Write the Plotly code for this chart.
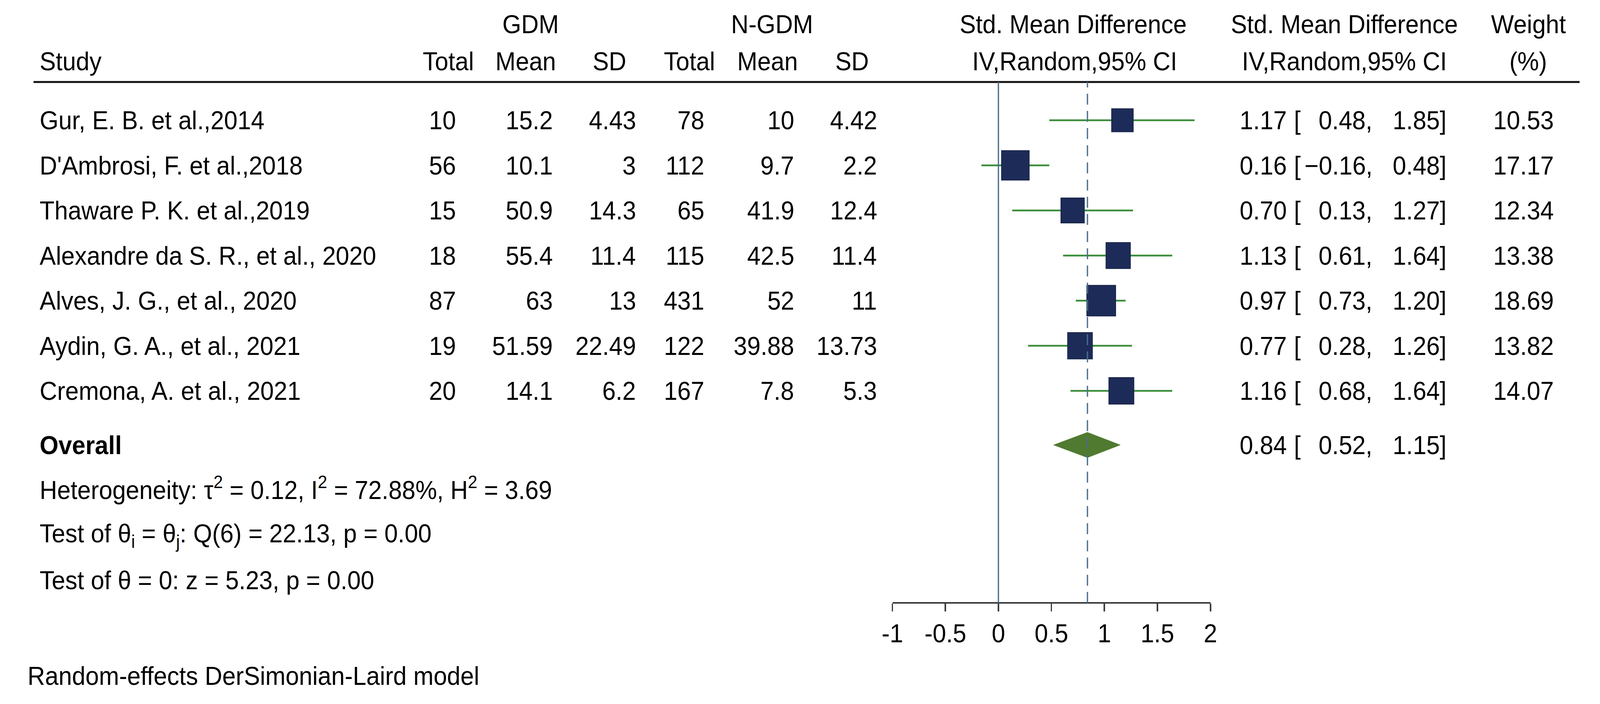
import numpy as np
import plotly.graph_objects as go

# ---------------- data ----------------
studies = ["Gur, E. B. et al.,2014", "D'Ambrosi, F. et al.,2018", "Thaware P. K. et al.,2019",
           "Alexandre da S. R., et al., 2020", "Alves, J. G., et al., 2020",
           "Aydin, G. A., et al., 2021", "Cremona, A. et al., 2021"]
gdm_total = [10, 56, 15, 18, 87, 19, 20]
gdm_mean = [15.2, 10.1, 50.9, 55.4, 63, 51.59, 14.1]
gdm_sd = [4.43, 3, 14.3, 11.4, 13, 22.49, 6.2]
ngdm_total = [78, 112, 65, 115, 431, 122, 167]
ngdm_mean = [10, 9.7, 41.9, 42.5, 52, 39.88, 7.8]
ngdm_sd = [4.42, 2.2, 12.4, 11.4, 11, 13.73, 5.3]
smd = [1.17, 0.16, 0.70, 1.13, 0.97, 0.77, 1.16]
ci_low = [0.48, -0.16, 0.13, 0.61, 0.73, 0.28, 0.68]
ci_high = [1.85, 0.48, 1.27, 1.64, 1.20, 1.26, 1.64]
weights = [10.53, 17.17, 12.34, 13.38, 18.69, 13.82, 14.07]
overall_smd = 0.84
overall_low = 0.52
overall_high = 1.15
tick_values = [-1, -0.5, 0, 0.5, 1, 1.5, 2]
tick_labels = ["-1", "-0.5", "0", "0.5", "1", "1.5", "2"]
stats_lines = ["Heterogeneity: τ<sup>2</sup> = 0.12, I<sup>2</sup> = 72.88%, H<sup>2</sup> = 3.69",
               "Test of θ<sub>i</sub> = θ<sub>j</sub>: Q(6) = 22.13, p = 0.00",
               "Test of θ = 0: z = 5.23, p = 0.00"]
footnote = "Random-effects DerSimonian-Laird model"

# ---------------- layout helpers ----------------
W, H = 4360, 1803
FONT = "Liberation Sans, Arial, sans-serif"
FS = 66
ROW0_PX, ROW_STEP = 308, 115.5


def px_x(p):
    return p / W


def px_y(p):
    return 1 - p / H


n = len(studies)
rows = list(range(1, n + 1))
overall_row = n + 1.2
stats_rows = [n + 2.16, n + 3.2, n + 4.2]

y_top = 1 + (0 - ROW0_PX) / ROW_STEP
y_bot = 1 + (H - ROW0_PX) / ROW_STEP

fig = go.Figure()

# CI lines + squares (square area proportional to weight)
sizes = [18.3 * np.sqrt(w) for w in weights]
fig.add_trace(go.Scatter(
    x=smd, y=rows, mode="markers",
    marker=dict(symbol="square", size=sizes, color="#1d2b58", opacity=1,
                line=dict(width=1.5, color="#141f40")),
    error_x=dict(type="data", symmetric=False,
                 array=[h - e for h, e in zip(ci_high, smd)],
                 arrayminus=[e - l for e, l in zip(smd, ci_low)],
                 width=0, thickness=4.5, color="#3b8d3b"),
    showlegend=False, hoverinfo="skip"))

# overall diamond
dh = 0.28
fig.add_trace(go.Scatter(
    x=[overall_low, overall_smd, overall_high, overall_smd, overall_low],
    y=[overall_row, overall_row - dh, overall_row, overall_row + dh, overall_row],
    mode="lines", fill="toself", fillcolor="#4f7a2f",
    line=dict(color="#4f7a2f", width=1), showlegend=False, hoverinfo="skip"))

ann = []


def txt(x, y, s, xanchor="left", yref="y", bold=False):
    ann.append(dict(x=x, y=y, xref="paper", yref=yref, text=("<b>%s</b>" % s) if bold else s,
                    showarrow=False, xanchor=xanchor, yanchor="middle",
                    font=dict(family=FONT, size=FS, color="#000000")))


# headers
hy1, hy2 = px_y(62), px_y(157)
txt(px_x(1432), hy1, "GDM", "center", "paper")
txt(px_x(2098), hy1, "N-GDM", "center", "paper")
txt(px_x(2927), hy1, "Std. Mean Difference", "center", "paper")
txt(px_x(3674), hy1, "Std. Mean Difference", "center", "paper")
txt(px_x(4181), hy1, "Weight", "center", "paper")
txt(px_x(78), hy2, "Study", "left", "paper")
for cx, lab in zip([1206, 1419, 1650, 1870, 2085, 2318], ["Total", "Mean", "SD", "Total", "Mean", "SD"]):
    txt(px_x(cx), hy2, lab, "center", "paper")
txt(px_x(2931), hy2, "IV,Random,95% CI", "center", "paper")
txt(px_x(3674), hy2, "IV,Random,95% CI", "center", "paper")
txt(px_x(4181), hy2, "(%)", "center", "paper")

# table rows
col_right = [1228, 1495, 1725, 1913, 2160, 2389]
cols = [gdm_total, gdm_mean, gdm_sd, ngdm_total, ngdm_mean, ngdm_sd]
for i, r in enumerate(rows):
    txt(px_x(78), r, studies[i])
    for xr, col in zip(col_right, cols):
        txt(px_x(xr), r, f"{col[i]:g}", "right")
    txt(px_x(3517), r, f"{smd[i]:.2f}", "right")
    txt(px_x(3533), r, "[")
    txt(px_x(3753), r, f"{ci_low[i]:.2f},".replace("-", "−"), "right")
    txt(px_x(3958), r, f"{ci_high[i]:.2f}]", "right")
    txt(px_x(4253), r, f"{weights[i]:.2f}", "right")

txt(px_x(78), overall_row, "Overall", bold=True)
txt(px_x(3517), overall_row, f"{overall_smd:.2f}", "right")
txt(px_x(3533), overall_row, "[")
txt(px_x(3753), overall_row, f"{overall_low:.2f},", "right")
txt(px_x(3958), overall_row, f"{overall_high:.2f}]", "right")
for yy, s in zip(stats_rows, stats_lines):
    txt(px_x(78), yy, s)
txt(px_x(44), px_y(1731), footnote, "left", "paper")

axis_pos = px_y(1544)
line_top = px_y(210)
shapes = [
    dict(type="line", xref="paper", yref="paper", x0=px_x(63), x1=px_x(4322), y0=line_top, y1=line_top,
         line=dict(color="#111111", width=5)),
    dict(type="line", xref="x", yref="paper", x0=0, x1=0, y0=axis_pos, y1=line_top,
         line=dict(color="#4b6d8c", width=3.5)),
    dict(type="line", xref="x", yref="paper", x0=overall_smd, x1=overall_smd, y0=axis_pos, y1=line_top,
         line=dict(color="#4b6d8c", width=3.5, dash="28px,16px")),
]

fig.update_layout(
    width=W, height=H, margin=dict(l=0, r=0, t=0, b=0),
    paper_bgcolor="white", plot_bgcolor="rgba(0,0,0,0)",
    annotations=ann, shapes=shapes, showlegend=False,
    xaxis=dict(domain=[2429 / W, 3305 / W], range=[-1, 2], anchor="free", position=axis_pos,
               showgrid=False, zeroline=False, showline=True, linecolor="#3a3a3a", linewidth=4,
               ticks="outside", ticklen=20, tickwidth=4, tickcolor="#3a3a3a",
               tickvals=tick_values, ticktext=tick_labels,
               tickfont=dict(family=FONT, size=FS, color="#000000")),
    yaxis=dict(domain=[0, 1], range=[y_bot, y_top], visible=False, showgrid=False, zeroline=False),
)

post = """
document.documentElement.style.margin='0';
document.body.style.margin='0';
document.body.style.overflow='hidden';
document.documentElement.style.overflow='hidden';
var gd = document.getElementById('{plot_id}');
var sx = window.innerWidth / %d, sy = window.innerHeight / %d;
if (Math.abs(sx - 1) > 0.001 || Math.abs(sy - 1) > 0.001) {
  gd.style.transformOrigin = '0 0';
  gd.style.transform = 'scale(' + sx + ',' + sy + ')';
}
""" % (W, H)

fig.write_html("out.html", post_script=post, config={"displayModeBar": False})
